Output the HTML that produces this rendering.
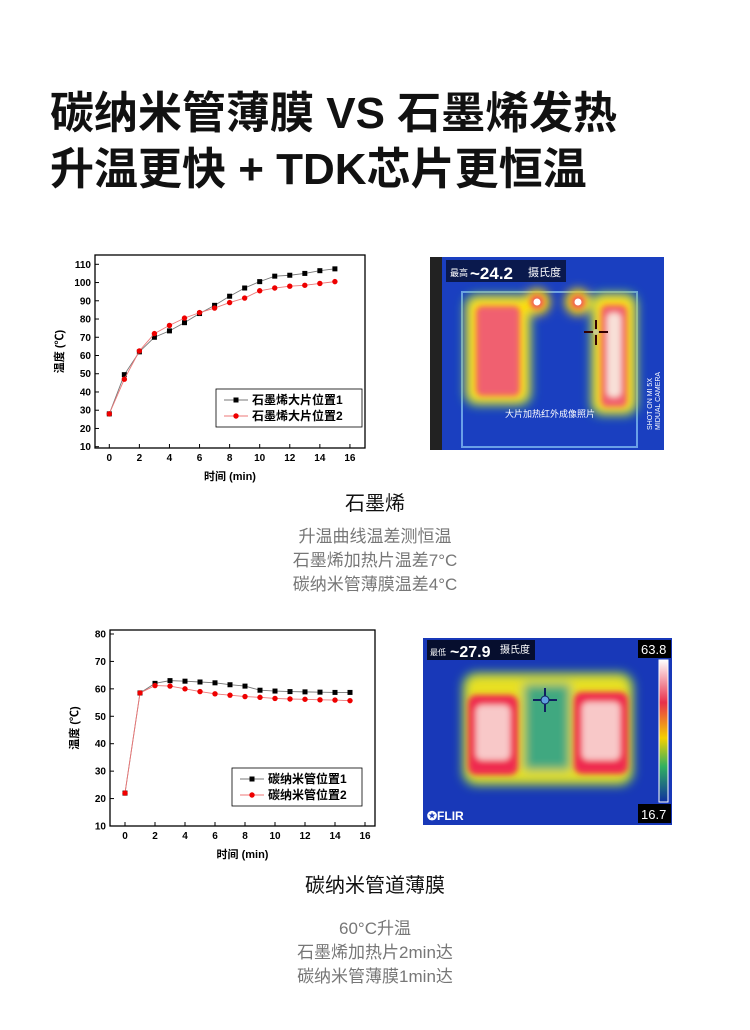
<!DOCTYPE html>
<html><head><meta charset="utf-8">
<style>
body{margin:0;width:750px;height:1030px;background:#fff;position:relative;overflow:hidden;font-family:"Liberation Sans","Noto Sans CJK SC",sans-serif;}
.t{position:absolute;left:50px;font-size:44px;font-weight:bold;color:#111;white-space:nowrap;letter-spacing:0px}
.c{position:absolute;left:0;width:750px;text-align:center;white-space:nowrap}
.h{font-size:20px;color:#111}
.s{font-size:17px;color:#777;line-height:24px}
svg{position:absolute;left:0;top:0}
</style></head><body>
<div class="t" style="top:77px">碳纳米管薄膜 VS 石墨烯发热</div>
<div class="t" style="top:133px">升温更快 + TDK芯片更恒温</div>
<div class="c h" style="top:487px">石墨烯</div>
<div class="c s" style="top:525px">升温曲线温差测恒温<br>石墨烯加热片温差7°C<br>碳纳米管薄膜温差4°C</div>
<div class="c h" style="top:869px">碳纳米管道薄膜</div>
<div class="c s" style="top:917px">60°C升温<br>石墨烯加热片2min达<br>碳纳米管薄膜1min达</div>

<svg width="750" height="1030" id="sv" font-family="Liberation Sans, Noto Sans CJK SC, sans-serif">
<defs>
<filter id="b1" x="-50%" y="-50%" width="200%" height="200%"><feGaussianBlur stdDeviation="5"/></filter>
<filter id="b2" x="-50%" y="-50%" width="200%" height="200%"><feGaussianBlur stdDeviation="3"/></filter>
<linearGradient id="cb" x1="0" y1="0" x2="0" y2="1">
<stop offset="0" stop-color="#fff"/><stop offset="0.3" stop-color="#e8304a"/><stop offset="0.55" stop-color="#f5d000"/><stop offset="0.75" stop-color="#30b060"/><stop offset="1" stop-color="#1030a0"/></linearGradient>
</defs>
<!-- top thermal -->
<g>
<rect x="430" y="257" width="234" height="193" fill="#1a3fc0"/>
<rect x="430" y="257" width="12" height="193" fill="#222"/>
<rect x="462" y="292" width="175" height="155" fill="none" stroke="#6aa0e8" stroke-width="2"/>
<g filter="url(#b1)">
<rect x="464" y="294" width="68" height="112" rx="12" fill="#40c060"/>
<rect x="590" y="292" width="48" height="124" rx="12" fill="#40c060"/>
<rect x="468" y="298" width="60" height="104" rx="10" fill="#ffe000"/>
<rect x="594" y="296" width="40" height="116" rx="10" fill="#ffe000"/>
<circle cx="537" cy="302" r="13" fill="#ffe000"/><circle cx="578" cy="302" r="13" fill="#ffe000"/>
</g>
<g filter="url(#b2)">
<rect x="476" y="306" width="44" height="90" rx="6" fill="#f06070"/>
<rect x="601" y="305" width="26" height="102" rx="6" fill="#f06070"/>
<rect x="607" y="313" width="14" height="84" rx="5" fill="#f8e0d8"/>
<circle cx="537" cy="302" r="7" fill="#f05060"/><circle cx="578" cy="302" r="7" fill="#f05060"/>
</g>
<circle cx="537" cy="302" r="3.5" fill="#fff"/><circle cx="578" cy="302" r="3.5" fill="#fff"/>
<rect x="446" y="260" width="120" height="22" fill="#000" opacity="0.6"/>
<text x="450" y="276" font-size="9" fill="#fff">最高</text>
<text x="470" y="279" font-size="17" font-weight="bold" fill="#fff">~24.2</text>
<text x="528" y="276" font-size="11" fill="#fff">摄氏度</text>
<line x1="596" y1="320" x2="596" y2="345" stroke="#300" stroke-width="2"/><line x1="584" y1="332" x2="608" y2="332" stroke="#300" stroke-width="2"/>
<circle cx="596" cy="332" r="3" fill="#cc8"/>
<text x="505" y="417" font-size="9" fill="#fff">大片加热红外成像照片</text>
<text x="652" y="430" font-size="7" fill="#fff" transform="rotate(-90 652 430)">SHOT ON MI 5X</text>
<text x="660" y="430" font-size="7" fill="#fff" transform="rotate(-90 660 430)">MIDUAL CAMERA</text>
</g>
<!-- bottom thermal -->
<g>
<rect x="423" y="638" width="249" height="187" fill="#1838b8"/>
<g filter="url(#b1)">
<rect x="462" y="672" width="172" height="114" rx="14" fill="#60c050"/>
<rect x="466" y="676" width="164" height="106" rx="12" fill="#e8e020"/>
<rect x="524" y="684" width="46" height="86" fill="#40a880"/>
</g>
<g filter="url(#b2)">
<rect x="468" y="695" width="50" height="80" rx="8" fill="#ef2a50"/>
<rect x="574" y="692" width="54" height="82" rx="8" fill="#ef2a50"/>
<rect x="476" y="705" width="34" height="55" rx="6" fill="#f8c8c8"/>
<rect x="582" y="702" width="38" height="58" rx="6" fill="#f8c8c8"/>
</g>
<line x1="545" y1="688" x2="545" y2="712" stroke="#102060" stroke-width="2"/><line x1="533" y1="700" x2="557" y2="700" stroke="#102060" stroke-width="2"/>
<circle cx="545" cy="700" r="4" fill="#60a0e0" stroke="#102060"/>
<rect x="427" y="640" width="108" height="20" fill="#000" opacity="0.75"/>
<text x="430" y="655" font-size="8" fill="#fff">最低</text>
<text x="450" y="657" font-size="16" font-weight="bold" fill="#fff">~27.9</text>
<text x="500" y="653" font-size="10" fill="#fff">摄氏度</text>
<rect x="638" y="640" width="33" height="18" fill="#000"/><text x="641" y="654" font-size="13" fill="#fff">63.8</text>
<rect x="659" y="660" width="9" height="142" fill="url(#cb)" stroke="#fff" stroke-width="1"/>
<rect x="638" y="804" width="33" height="19" fill="#000"/><text x="641" y="819" font-size="13" fill="#fff">16.7</text>
<text x="427" y="820" font-size="12" font-weight="bold" fill="#fff">✪FLIR</text>
</g>
<g id="charts"></g>
</svg>
<script>
var ns="http://www.w3.org/2000/svg",G=document.getElementById("charts");
function el(t,a,txt){var e=document.createElementNS(ns,t);for(var k in a)e.setAttribute(k,a[k]);if(txt!=null)e.textContent=txt;G.appendChild(e);return e;}
function chart(o){
 var X=function(v){return o.x0+v*o.sx},Y=function(v){return o.y0-(v-o.ymin)*o.sy};
 el("rect",{x:o.L,y:o.T,width:o.R-o.L,height:o.B-o.T,fill:"none",stroke:"#000","stroke-width":1.3});
 for(var v=0;v<=16;v+=2){el("line",{x1:X(v),y1:o.B,x2:X(v),y2:o.B-4,stroke:"#000"});el("text",{x:X(v),y:o.B+13,"font-size":10,"font-weight":"bold","text-anchor":"middle"},v);}
 for(var v=o.ymin;v<=o.ymax;v+=10){el("line",{x1:o.L,y1:Y(v),x2:o.L+4,y2:Y(v),stroke:"#000"});el("text",{x:o.L-4,y:Y(v)+3.5,"font-size":10,"font-weight":"bold","text-anchor":"end"},v);}
 el("text",{x:(o.L+o.R)/2,y:o.B+32,"font-size":11,"font-weight":"bold","text-anchor":"middle"},"时间 (min)");
 var yl=(o.T+o.B)/2;el("text",{x:o.L-32,y:yl,"font-size":11,"font-weight":"bold","text-anchor":"middle",transform:"rotate(-90 "+(o.L-32)+" "+yl+")"},"温度 (℃)");
 [[o.d1,"#000","sq"],[o.d2,"#e00","ci"]].forEach(function(s){
  var p=s[0].map(function(v,i){return X(i)+","+Y(v)}).join(" ");
  el("polyline",{points:p,fill:"none",stroke:s[1]=="#000"?"#777":"#e77","stroke-width":0.9});
  s[0].forEach(function(v,i){if(s[2]=="sq")el("rect",{x:X(i)-2.5,y:Y(v)-2.5,width:5,height:5,fill:"#000"});else el("circle",{cx:X(i),cy:Y(v),r:2.7,fill:"#e00"});});
 });
 var lx=o.lg[0],ly=o.lg[1];
 el("rect",{x:lx,y:ly,width:o.lg[2],height:38,fill:"#fff",stroke:"#000","stroke-width":0.8});
 el("line",{x1:lx+8,y1:ly+11,x2:lx+32,y2:ly+11,stroke:"#777"});el("rect",{x:lx+17.5,y:ly+8.5,width:5,height:5});
 el("line",{x1:lx+8,y1:ly+27,x2:lx+32,y2:ly+27,stroke:"#e77"});el("circle",{cx:lx+20,cy:ly+27,r:2.7,fill:"#e00"});
 el("text",{x:lx+36,y:ly+15,"font-size":12,"font-weight":"bold"},o.n+"1");
 el("text",{x:lx+36,y:ly+31,"font-size":12,"font-weight":"bold"},o.n+"2");
}
chart({L:95,R:365,T:255,B:448,x0:109.3,sx:15.04,y0:446.7,sy:1.824,ymin:10,ymax:110,
 d1:[28,49.5,62,70,73.5,78,83,87.5,92.5,97,100.5,103.5,104,105,106.5,107.5],
 d2:[28,47,62.5,72,76.5,80.5,83.5,86,89,91.5,95.5,97,98,98.5,99.5,100.5],
 lg:[216,389,146],n:"石墨烯大片位置"});
chart({L:110,R:375,T:630,B:826,x0:125,sx:15,y0:826,sy:2.743,ymin:10,ymax:80,
 d1:[22,58.5,62,63,62.8,62.5,62.2,61.5,61,59.5,59.2,59,58.9,58.8,58.7,58.7],
 d2:[22,58.5,61.2,61,60,59,58.2,57.7,57.2,56.9,56.5,56.3,56.2,56,55.9,55.7],
 lg:[232,768,130],n:"碳纳米管位置"});
</script>
</body></html>
